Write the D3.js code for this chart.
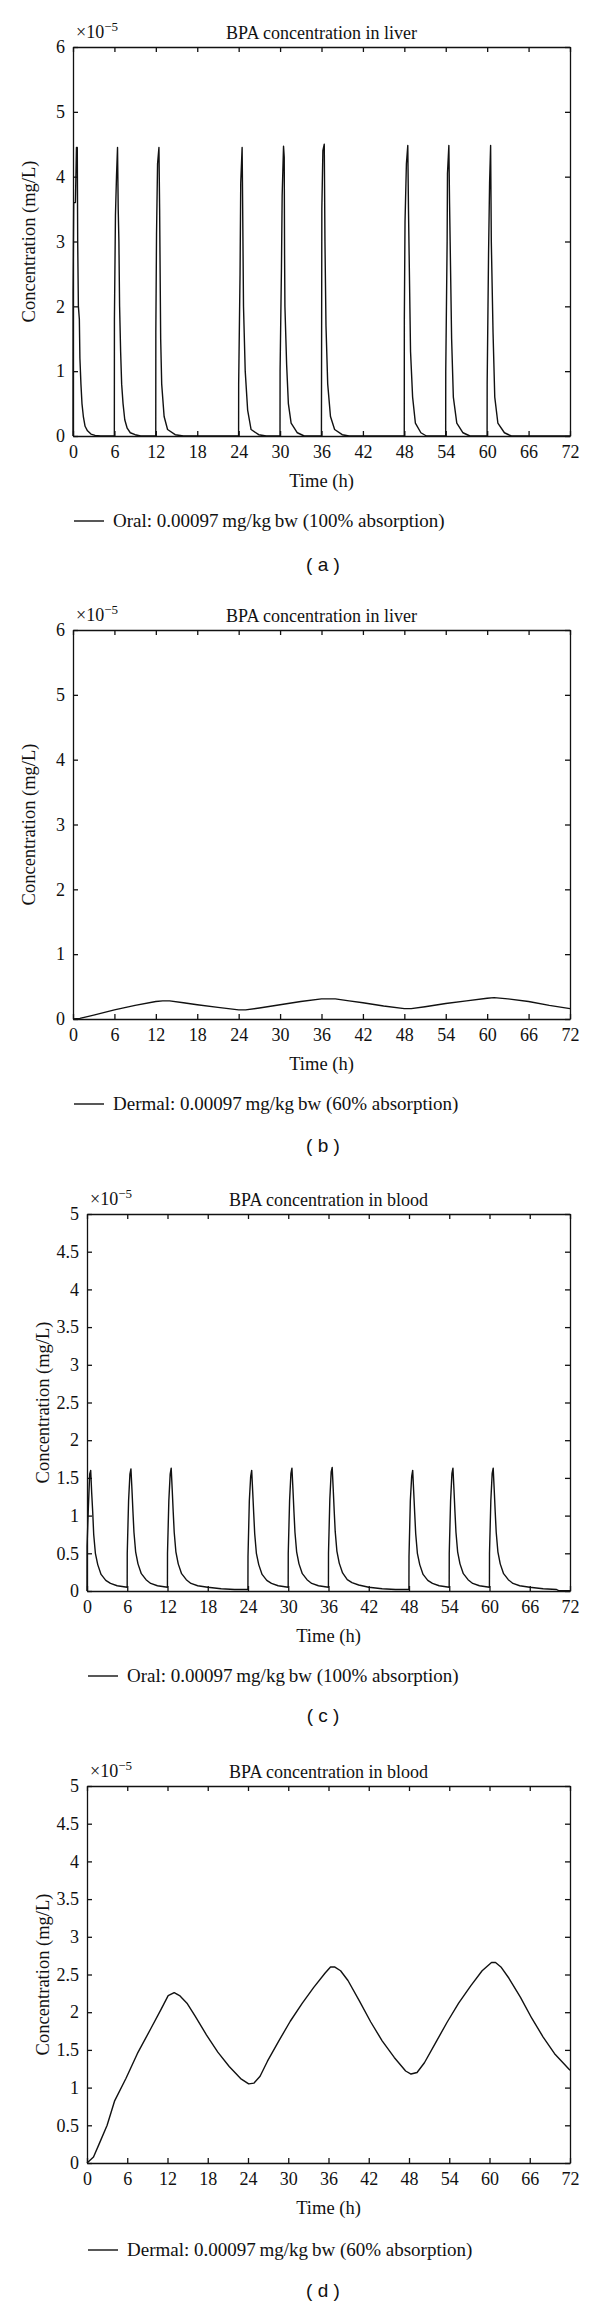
<!DOCTYPE html>
<html>
<head>
<meta charset="utf-8">
<script src="https://cdnjs.cloudflare.com/ajax/libs/d3/7.8.5/d3.min.js"></script>
<style>
  body { margin: 0; background: #fff; }
  svg { display: block; }
  .ax text { font-family: "Liberation Serif", serif; font-size: 18px; fill: #111; }
  .ax path, .ax line { stroke: #111; stroke-width: 1.3; }
</style>
</head>
<body>
<svg id="chart"></svg>
<script>
var width = 600;
var height = 2308;

// tick values
var timeTicks = [0, 6, 12, 18, 24, 30, 36, 42, 48, 54, 60, 66, 72];
var liverTicks = [0, 1, 2, 3, 4, 5, 6];
var bloodTicks = [0, 0.5, 1, 1.5, 2, 2.5, 3, 3.5, 4, 4.5, 5];

// concentration values are in units of 1e-5 mg/L
// (a) liver, oral dose
var liverOral = [
  [0, 0], [0.01, 2.2], [0.1, 3.6], [0.35, 3.6], [0.5, 4.45], [0.62, 4.45], [0.68, 3.0], [0.78, 2.0],
  [0.92, 1.8], [1.0, 1.2], [1.15, 0.8], [1.3, 0.5], [1.5, 0.3], [1.75, 0.15], [2.1, 0.08], [2.6, 0.03], [3.2, 0.01], [4, 0],
  [5.99, 0], [6.0, 1.8], [6.15, 3.4], [6.3, 4.0], [6.45, 4.45], [6.55, 3.5], [6.65, 3.0], [6.75, 2.0], [6.9, 1.3],
  [7.05, 0.8], [7.25, 0.5], [7.5, 0.25], [7.85, 0.12], [8.3, 0.05], [9, 0.02], [9.8, 0],
  [11.99, 0], [12.0, 1.6], [12.1, 3.1], [12.25, 4.2], [12.45, 4.45], [12.55, 3.5], [12.7, 1.5], [12.85, 0.8],
  [13.2, 0.3], [13.7, 0.1], [14.8, 0.02], [16, 0],
  [23.99, 0], [24.0, 0.8], [24.2, 2.5], [24.3, 3.9], [24.5, 4.45], [24.55, 3.9], [24.7, 2.0], [24.95, 1.0],
  [25.3, 0.4], [25.8, 0.1], [26.9, 0.02], [28, 0],
  [29.99, 0], [30.0, 1.0], [30.2, 2.6], [30.3, 3.7], [30.5, 4.47], [30.6, 4.3], [30.65, 2.8], [30.7, 2.0],
  [30.95, 1.1], [31.2, 0.5], [31.6, 0.2], [32.5, 0.05], [33.5, 0],
  [35.99, 0], [36.05, 3.5], [36.2, 4.4], [36.4, 4.5], [36.5, 3.0], [36.65, 1.7], [36.9, 0.8], [37.3, 0.3],
  [37.9, 0.1], [39, 0.02], [40, 0],
  [47.99, 0], [48.0, 1.8], [48.1, 3.3], [48.3, 4.2], [48.5, 4.48], [48.6, 3.5], [48.9, 1.3], [49.2, 0.6],
  [49.6, 0.2], [50.4, 0.05], [51.2, 0],
  [53.99, 0], [54.0, 1.0], [54.2, 3.0], [54.25, 4.05], [54.45, 4.48], [54.55, 3.6], [54.85, 1.5], [55.1, 0.6],
  [55.6, 0.2], [56.5, 0.05], [57.5, 0],
  [59.99, 0], [60.0, 0.8], [60.2, 2.8], [60.35, 3.9], [60.5, 4.48], [60.6, 3.0], [60.85, 1.6], [61.1, 0.6],
  [61.55, 0.2], [62.5, 0.05], [63.5, 0],
  [72, 0]
];

// (b) liver, dermal dose
var liverDermal = [
  [0, 0], [1, 0.01], [3, 0.06], [6, 0.14], [9, 0.21], [12, 0.27], [13, 0.28], [14, 0.28], [16, 0.25],
  [18, 0.22], [21, 0.18], [24, 0.14], [25, 0.14], [27, 0.17], [30, 0.22], [33, 0.27], [36, 0.31],
  [38, 0.31], [40, 0.28], [42, 0.25], [45, 0.2], [48, 0.16], [49, 0.16], [51, 0.19], [54, 0.24],
  [57, 0.28], [60, 0.32], [61, 0.33], [63, 0.31], [66, 0.27], [69, 0.21], [72, 0.16]
];

// (c) blood, oral dose
var bloodOral = [
  [0, 0], [0.01, 0.6], [0.2, 1.1], [0.4, 1.55], [0.55, 1.6], [0.7, 1.3], [0.85, 1.05], [1.0, 0.75],
  [1.25, 0.5], [1.6, 0.35], [2.1, 0.22], [2.8, 0.14], [3.5, 0.1], [4.5, 0.07], [5.99, 0.05],
  [6.0, 0.5], [6.2, 1.2], [6.4, 1.55], [6.55, 1.62], [6.7, 1.35], [6.85, 1.05], [7.0, 0.78], [7.25, 0.52],
  [7.6, 0.36], [8.1, 0.23], [8.8, 0.15], [9.5, 0.1], [10.5, 0.07], [11.99, 0.05],
  [12.0, 0.5], [12.2, 1.2], [12.4, 1.55], [12.55, 1.63], [12.7, 1.35], [12.85, 1.05], [13.0, 0.78], [13.25, 0.52],
  [13.6, 0.36], [14.1, 0.23], [14.8, 0.15], [15.5, 0.1], [16.5, 0.07], [18, 0.05], [20, 0.03], [22, 0.02], [23.99, 0.02],
  [24.0, 0.45], [24.2, 1.2], [24.4, 1.52], [24.55, 1.6], [24.7, 1.32], [24.85, 1.03], [25.0, 0.76], [25.25, 0.5],
  [25.6, 0.35], [26.1, 0.22], [26.8, 0.14], [27.5, 0.1], [28.5, 0.07], [29.99, 0.05],
  [30.0, 0.5], [30.2, 1.2], [30.4, 1.56], [30.55, 1.63], [30.7, 1.35], [30.85, 1.05], [31.0, 0.78], [31.25, 0.52],
  [31.6, 0.36], [32.1, 0.23], [32.8, 0.15], [33.5, 0.1], [34.5, 0.07], [35.99, 0.05],
  [36.0, 0.5], [36.2, 1.22], [36.4, 1.58], [36.55, 1.64], [36.7, 1.36], [36.85, 1.06], [37.0, 0.79], [37.25, 0.53],
  [37.6, 0.37], [38.1, 0.24], [38.8, 0.15], [39.5, 0.11], [40.5, 0.08], [42, 0.05], [44, 0.03], [46, 0.02], [47.99, 0.02],
  [48.0, 0.45], [48.2, 1.2], [48.4, 1.52], [48.55, 1.6], [48.7, 1.32], [48.85, 1.03], [49.0, 0.76], [49.25, 0.5],
  [49.6, 0.35], [50.1, 0.22], [50.8, 0.14], [51.5, 0.1], [52.5, 0.07], [53.99, 0.05],
  [54.0, 0.5], [54.2, 1.2], [54.4, 1.56], [54.55, 1.63], [54.7, 1.35], [54.85, 1.05], [55.0, 0.78], [55.25, 0.52],
  [55.6, 0.36], [56.1, 0.23], [56.8, 0.15], [57.5, 0.1], [58.5, 0.07], [59.99, 0.05],
  [60.0, 0.5], [60.2, 1.2], [60.4, 1.56], [60.55, 1.63], [60.7, 1.35], [60.85, 1.05], [61.0, 0.78], [61.25, 0.52],
  [61.6, 0.36], [62.1, 0.23], [62.8, 0.15], [63.5, 0.1], [64.5, 0.07], [66, 0.05], [68, 0.03], [70, 0.02],
  [70.3, 0.005], [72, 0.005]
];

// (d) blood, dermal dose
var bloodDermal = [
  [0, 0], [0.97, 0.08], [1.8, 0.25], [3, 0.5], [4.1, 0.82], [5.8, 1.12], [7.5, 1.45], [9.5, 1.78],
  [11, 2.03], [12.1, 2.22], [13, 2.26], [13.8, 2.22], [14.9, 2.12], [16.1, 1.95], [17.8, 1.7],
  [19.5, 1.47], [21.2, 1.28], [22.9, 1.12], [24.1, 1.05], [24.9, 1.06], [25.8, 1.15], [26.9, 1.35],
  [28.6, 1.62], [30.3, 1.88], [32.1, 2.12], [33.8, 2.33], [35.5, 2.52], [36.3, 2.6], [36.9, 2.6],
  [37.8, 2.55], [38.9, 2.42], [40.6, 2.15], [42.3, 1.87], [44, 1.62], [45.8, 1.4], [47.5, 1.22],
  [48.3, 1.18], [49.2, 1.2], [50.3, 1.33], [52, 1.6], [53.7, 1.87], [55.4, 2.12], [57.2, 2.35],
  [58.9, 2.55], [60.3, 2.66], [60.9, 2.66], [61.7, 2.6], [62.9, 2.45], [64.6, 2.2], [66.3, 1.92],
  [68, 1.67], [69.7, 1.45], [72, 1.23]
];

var panels = [
  { title: "BPA concentration in liver", data: liverOral, yTicks: liverTicks, yMax: 6,
    legend: "Oral: 0.00097\u2009mg/kg\u2009bw (100% absorption)", tag: "( a )",
    left: 73, right: 570, top: 47, bottom: 436, legendY: 521, tagY: 571 },
  { title: "BPA concentration in liver", data: liverDermal, yTicks: liverTicks, yMax: 6,
    legend: "Dermal: 0.00097\u2009mg/kg\u2009bw (60% absorption)", tag: "( b )",
    left: 73, right: 570, top: 630, bottom: 1019, legendY: 1104, tagY: 1152 },
  { title: "BPA concentration in blood", data: bloodOral, yTicks: bloodTicks, yMax: 5,
    legend: "Oral: 0.00097\u2009mg/kg\u2009bw (100% absorption)", tag: "( c )",
    left: 87, right: 570, top: 1214, bottom: 1591, legendY: 1676, tagY: 1722 },
  { title: "BPA concentration in blood", data: bloodDermal, yTicks: bloodTicks, yMax: 5,
    legend: "Dermal: 0.00097\u2009mg/kg\u2009bw (60% absorption)", tag: "( d )",
    left: 87, right: 570, top: 1786, bottom: 2163, legendY: 2250, tagY: 2297 }
];

var svg = d3.select("#chart")
            .attr("width", width)
            .attr("height", height);

panels.forEach(function(p) {
  var xScale = d3.scaleLinear().domain([0, 72]).range([p.left, p.right]);
  var yScale = d3.scaleLinear().domain([0, p.yMax]).range([p.bottom, p.top]);

  var g = svg.append("g");

  // the curve
  var line = d3.line()
               .x(d => xScale(d[0]))
               .y(d => yScale(d[1]));

  g.append("path")
    .datum(p.data)
    .attr("fill", "none")
    .attr("stroke", "#111")
    .attr("stroke-width", 1.4)
    .attr("stroke-linejoin", "round")
    .attr("d", line);

  // axes, ticks pointing inward like MATLAB
  g.append("g")
    .attr("class", "ax")
    .attr("transform", "translate(0," + p.bottom + ")")
    .call(d3.axisBottom(xScale).tickValues(timeTicks).tickSizeInner(-5).tickSizeOuter(0).tickPadding(9));

  g.append("g")
    .attr("class", "ax")
    .attr("transform", "translate(0," + p.top + ")")
    .call(d3.axisTop(xScale).tickValues(timeTicks).tickSizeInner(-5).tickSizeOuter(0).tickFormat(""));

  g.append("g")
    .attr("class", "ax")
    .attr("transform", "translate(" + p.left + ",0)")
    .call(d3.axisLeft(yScale).tickValues(p.yTicks).tickSizeInner(-5).tickSizeOuter(0).tickPadding(8)
            .tickFormat(d3.format("")));

  g.append("g")
    .attr("class", "ax")
    .attr("transform", "translate(" + p.right + ",0)")
    .call(d3.axisRight(yScale).tickValues(p.yTicks).tickSizeInner(-5).tickSizeOuter(0).tickFormat(""));

  g.selectAll(".ax .tick text").attr("fill", "#111");

  // exponent label
  var ex = g.append("text")
    .attr("x", p.left + 3)
    .attr("y", p.top - 9)
    .attr("font-family", "Liberation Serif, serif")
    .attr("font-size", "18px")
    .attr("fill", "#111");
  ex.append("tspan").text("\u00d710");
  ex.append("tspan").attr("dy", -7).attr("font-size", "13px").text("\u22125");

  // title
  g.append("text")
    .attr("x", (p.left + p.right) / 2)
    .attr("y", p.top - 8)
    .attr("text-anchor", "middle")
    .attr("font-family", "Liberation Serif, serif")
    .attr("font-size", "18px")
    .attr("fill", "#111")
    .text(p.title);

  // axis labels
  g.append("text")
    .attr("x", (p.left + p.right) / 2)
    .attr("y", p.bottom + 51)
    .attr("text-anchor", "middle")
    .attr("font-family", "Liberation Serif, serif")
    .attr("font-size", "18.5px")
    .attr("fill", "#111")
    .text("Time (h)");

  g.append("text")
    .attr("transform", "translate(" + (p.left - 38) + "," + ((p.top + p.bottom) / 2) + ") rotate(-90)")
    .attr("text-anchor", "middle")
    .attr("font-family", "Liberation Serif, serif")
    .attr("font-size", "18.5px")
    .attr("fill", "#111")
    .text("Concentration (mg/L)");

  // legend
  g.append("line")
    .attr("x1", p.left + 1)
    .attr("x2", p.left + 31)
    .attr("y1", p.legendY)
    .attr("y2", p.legendY)
    .attr("stroke", "#111")
    .attr("stroke-width", 1.4);

  g.append("text")
    .attr("x", p.left + 40)
    .attr("y", p.legendY + 6)
    .attr("font-family", "Liberation Serif, serif")
    .attr("font-size", "19px")
    .attr("fill", "#111")
    .text(p.legend);

  // panel tag
  g.append("text")
    .attr("x", 323)
    .attr("y", p.tagY)
    .attr("text-anchor", "middle")
    .attr("font-family", "Liberation Sans, Arial, sans-serif")
    .attr("font-size", "19px")
    .attr("fill", "#111")
    .text(p.tag);
});
</script>
</body>
</html>
